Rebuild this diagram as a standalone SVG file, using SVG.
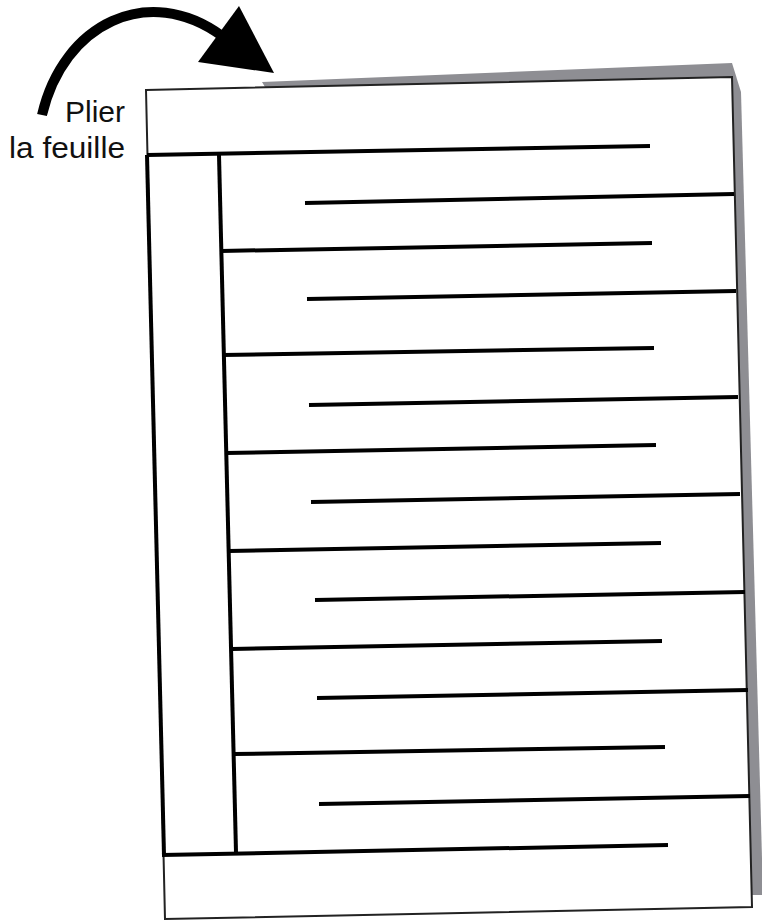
<svg xmlns="http://www.w3.org/2000/svg" width="762" height="921" viewBox="0 0 762 921">
<style>
.thick{stroke:#000;stroke-width:4;stroke-linecap:butt;fill:none}
.label{font-family:"Liberation Sans",Arial,sans-serif;font-size:30px;fill:#111;text-anchor:end}
</style>
<rect width="762" height="921" fill="#fff"/>
<g id="arrow">
<path d="M42,115 C63,24 148,-18 222,36" fill="none" stroke="#000" stroke-width="10"/>
<polygon points="239,6 274,73 198,62" fill="#000"/>
</g>
<g id="label">
<text class="label" x="125" y="122" textLength="60" lengthAdjust="spacingAndGlyphs">Plier</text>
<text class="label" x="125" y="158" textLength="116" lengthAdjust="spacingAndGlyphs">la feuille</text>
</g>
<g id="sheet">
<polygon points="262,82 732,63 741,92 763,895 745,895" fill="#8e8e93"/>
<polygon points="146,90 732,77 752,907 165,919" fill="#fff" stroke="#222" stroke-width="2"/>
</g>
<g id="lines">
<line class="thick" x1="147" y1="155" x2="650" y2="146"/>
<line class="thick" x1="147" y1="155" x2="164" y2="855"/>
<line class="thick" x1="219" y1="155" x2="236" y2="852"/>
<line class="thick" x1="305" y1="203" x2="734" y2="194"/>
<line class="thick" x1="221" y1="251" x2="652" y2="243"/>
<line class="thick" x1="307" y1="299" x2="736" y2="291"/>
<line class="thick" x1="223" y1="355" x2="654" y2="348"/>
<line class="thick" x1="309" y1="405" x2="738" y2="397"/>
<line class="thick" x1="226" y1="453" x2="656" y2="445"/>
<line class="thick" x1="311" y1="502" x2="740" y2="494"/>
<line class="thick" x1="229" y1="551" x2="661" y2="543"/>
<line class="thick" x1="315" y1="600" x2="745" y2="592"/>
<line class="thick" x1="232" y1="649" x2="662" y2="641"/>
<line class="thick" x1="317" y1="698" x2="748" y2="690"/>
<line class="thick" x1="234" y1="754" x2="665" y2="747"/>
<line class="thick" x1="319" y1="804" x2="750" y2="796"/>
<line class="thick" x1="162" y1="855" x2="668" y2="845"/>
</g>
</svg>
